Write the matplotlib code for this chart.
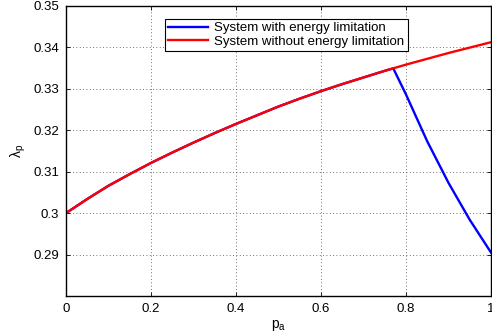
import matplotlib
matplotlib.use("Agg")
import matplotlib.pyplot as plt

# values
p_a = [0.0, 0.05, 0.1, 0.15, 0.2, 0.25, 0.3, 0.35, 0.4, 0.45, 0.5,
       0.55, 0.6, 0.65, 0.7, 0.75, 0.8, 0.85, 0.9, 0.95, 1.0]
lam_no_limit = [0.300, 0.3034, 0.3066, 0.3094, 0.3121, 0.3146, 0.3170, 0.3193, 0.3215, 0.3236, 0.3257,
                0.3276, 0.3294, 0.3311, 0.3327, 0.3343, 0.3358, 0.3372, 0.3386, 0.3399, 0.3412]

p_a_lim = [0.0, 0.05, 0.1, 0.15, 0.2, 0.25, 0.3, 0.35, 0.4, 0.45, 0.5,
           0.55, 0.6, 0.65, 0.7, 0.75, 0.77, 0.8, 0.85, 0.9, 0.95, 1.0]
lam_limit = [0.300, 0.3034, 0.3066, 0.3094, 0.3121, 0.3146, 0.3170, 0.3193, 0.3215, 0.3236, 0.3257,
             0.3276, 0.3294, 0.3311, 0.3327, 0.3343, 0.3349, 0.3286, 0.3173, 0.3073, 0.2984, 0.2905]

xticks = [0, 0.2, 0.4, 0.6, 0.8, 1]
xtick_labels = ["0", "0.2", "0.4", "0.6", "0.8", "1"]
yticks = [0.29, 0.30, 0.31, 0.32, 0.33, 0.34, 0.35]
ytick_labels = ["0.29", "0.3", "0.31", "0.32", "0.33", "0.34", "0.35"]

plt.rcParams['font.family'] = ['Liberation Sans', 'DejaVu Sans']

fig = plt.figure(figsize=(4.92, 3.35), dpi=100)
ax = fig.add_axes([0.134, 0.116, 0.864, 0.867])

ax.plot(p_a_lim, lam_limit, color='#0000ff', lw=1.7, label='System with energy limitation')
ax.plot(p_a, lam_no_limit, color='#ff0000', lw=1.7, label='System without energy limitation')

ax.set_xlim(0, 1)
ax.set_ylim(0.28, 0.35)
ax.set_xticks(xticks)
ax.set_xticklabels(xtick_labels)
ax.set_yticks(yticks)
ax.set_yticklabels(ytick_labels)
ax.tick_params(direction='in', length=3, width=0.6, top=True, right=True, labelsize=9.5, pad=5)
ax.grid(True, linestyle=(0, (1, 3)), color='#444444', lw=0.6)
for s in ax.spines.values():
    s.set_linewidth(1.0)

ax.set_xlabel(r'p$_\mathregular{a}$', fontsize=10, labelpad=2)
ax.set_ylabel(r'λ$_\mathregular{p}$', fontsize=10, labelpad=4)

leg = ax.legend(loc='upper left', bbox_to_anchor=(0.233, 0.955), fontsize=9.5,
                fancybox=False, framealpha=1, edgecolor='black', handlelength=3.0,
                borderpad=0.25, labelspacing=0.1, handletextpad=0.5, borderaxespad=0)
leg.get_frame().set_linewidth(0.8)

fig.savefig('out.png', dpi=100)
